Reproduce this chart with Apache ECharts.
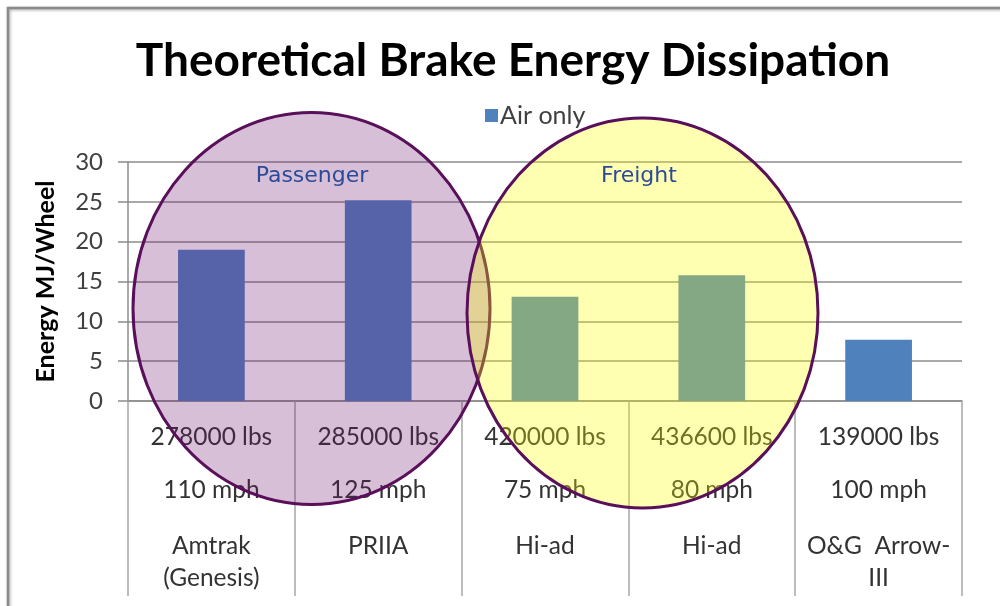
<!DOCTYPE html>
<html>
<head>
<meta charset="utf-8">
<script src="https://cdn.jsdelivr.net/npm/echarts@6/dist/echarts.min.js"></script>
<style>
  html, body { margin: 0; padding: 0; background: #fff; overflow: hidden; }
  #chart { width: 1000px; height: 606px; }
</style>
</head>
<body>
<div id="chart"></div>
<script>
// Braking energy per wheel for each train configuration
const names   = ['Amtrak\n(Genesis)', 'PRIIA', 'Hi-ad', 'Hi-ad', 'O&G  Arrow-\nIII'];
const weights = ['278000 lbs', '285000 lbs', '420000 lbs', '436600 lbs', '139000 lbs'];
const speeds  = ['110 mph', '125 mph', '75 mph', '80 mph', '100 mph'];
const energy  = [19.0, 25.2, 13.1, 15.8, 7.7];
const yTicks  = [0, 5, 10, 15, 20, 25, 30];

const FONT = 'Lato, "Open Sans", sans-serif';
const chart = echarts.init(document.getElementById('chart'), null, { renderer: 'canvas' });

function categoryLabel(value, idx) {
  const lines = ['{a|' + weights[idx] + '}', '{s1| }', '{a|' + speeds[idx] + '}', '{s2| }'];
  names[idx].split('\n').forEach(function (l) { lines.push('{n|' + l + '}'); });
  return lines.join('\n');
}

chart.setOption({
  animation: false,
  title: {
    text: 'Theoretical Brake Energy Dissipation',
    left: 508,
    textAlign: 'center',
    top: 33,
    textStyle: { fontFamily: FONT, fontWeight: 'bold', fontSize: 46, color: '#000' }
  },
  legend: {
    left: 480,
    top: 98,
    icon: 'rect',
    itemWidth: 13,
    itemHeight: 13,
    itemGap: 4,
    textStyle: { fontFamily: FONT, fontSize: 25, color: '#404040', padding: [0, 0, 0, -3] },
    data: ['Air only']
  },
  grid: { left: 128, right: 38, top: 162, bottom: 205, containLabel: false },
  xAxis: {
    type: 'category',
    data: names,
    axisLine: { show: true, lineStyle: { color: '#8c8c8c', width: 1.5 } },
    axisTick: { show: true, interval: 0, length: 195, lineStyle: { color: '#a6a6a6', width: 1.5 } },
    axisLabel: {
      interval: 0,
      margin: 21,
      formatter: categoryLabel,
      rich: {
        a:  { fontFamily: FONT, fontSize: 24.5, color: '#333', lineHeight: 30, align: 'center' },
        s1: { fontSize: 10, lineHeight: 23 },
        s2: { fontSize: 10, lineHeight: 25 },
        n:  { fontFamily: FONT, fontSize: 24.5, color: '#333', lineHeight: 32, align: 'center' }
      }
    }
  },
  yAxis: {
    type: 'value',
    min: yTicks[0],
    max: yTicks[yTicks.length - 1],
    interval: yTicks[1] - yTicks[0],
    name: 'Energy MJ/Wheel',
    nameLocation: 'middle',
    nameGap: 70,
    nameTextStyle: { fontFamily: FONT, fontWeight: 'bold', fontSize: 25, color: '#000' },
    axisLine: { show: true, lineStyle: { color: '#8c8c8c', width: 1.5 } },
    axisTick: { show: true, length: 10, lineStyle: { color: '#8c8c8c', width: 1.5 } },
    axisLabel: { margin: 25, fontFamily: FONT, fontSize: 24, color: '#404040' },
    splitLine: { show: true, lineStyle: { color: '#8c8c8c', width: 1.5 } }
  },
  series: [{
    name: 'Air only',
    type: 'bar',
    data: energy,
    barWidth: '40%',
    itemStyle: { color: '#4f81bd' }
  }],
  graphic: [
    // outer frame: top and left edges
    { type: 'polyline', z: 120, shape: { points: [[8, 620], [8, 8], [1010, 8]] },
      style: { fill: 'none', stroke: '#8a8a8a', lineWidth: 2.5,
               shadowBlur: 3, shadowColor: 'rgba(0,0,0,0.35)', shadowOffsetX: 1, shadowOffsetY: 1 } },
    // group highlights
    { type: 'ellipse', z: 100, shape: { cx: 311.5, cy: 308.5, rx: 178.5, ry: 196 },
      style: { fill: 'rgba(110,20,110,0.27)', stroke: '#5a0f5a', lineWidth: 3 } },
    { type: 'ellipse', z: 101, shape: { cx: 642.5, cy: 313, rx: 175.5, ry: 195 },
      style: { fill: 'rgba(255,255,0,0.3)', stroke: '#5a0f5a', lineWidth: 3 } },
    { type: 'text', z: 110, x: 312, y: 176,
      style: { text: 'Passenger', font: '22px "DejaVu Sans"', fill: '#2b4a98', textAlign: 'center', textVerticalAlign: 'middle' } },
    { type: 'text', z: 110, x: 639, y: 176,
      style: { text: 'Freight', font: '22px "DejaVu Sans"', fill: '#2b4a98', textAlign: 'center', textVerticalAlign: 'middle' } }
  ]
});
</script>
</body>
</html>
